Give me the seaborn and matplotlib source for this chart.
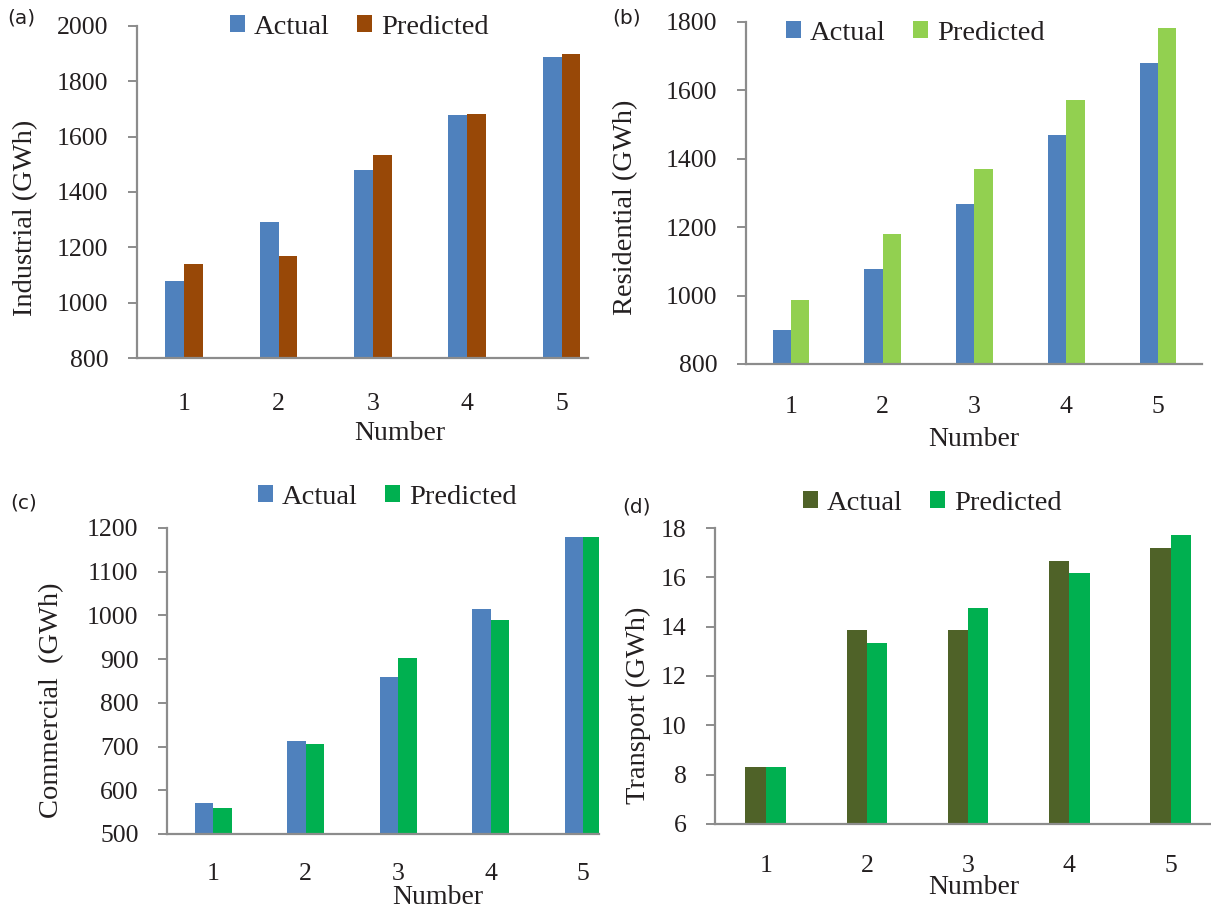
import matplotlib
matplotlib.use("Agg")
import matplotlib.pyplot as plt
import seaborn as sns
import pandas as pd

sns.set_style("white")
plt.rcParams['font.family'] = ['Liberation Serif', 'DejaVu Serif']

numbers = ["1", "2", "3", "4", "5"]
series_names = ["Actual", "Predicted"]

industrial_actual = [1079, 1291, 1479, 1679, 1887]
industrial_pred = [1139, 1170, 1534, 1683, 1900]
residential_actual = [898, 1077, 1269, 1470, 1681]
residential_pred = [987, 1181, 1371, 1572, 1783]
commercial_actual = [571, 712, 860, 1015, 1179]
commercial_pred = [559, 707, 903, 990, 1179]
transport_actual = [8.32, 13.86, 13.86, 16.67, 17.2]
transport_pred = [8.30, 13.35, 14.75, 16.17, 17.72]

y_ticks_a = [800, 1000, 1200, 1400, 1600, 1800, 2000]
y_ticks_b = [800, 1000, 1200, 1400, 1600, 1800]
y_ticks_c = [500, 600, 700, 800, 900, 1000, 1100, 1200]
y_ticks_d = [6, 8, 10, 12, 14, 16, 18]

W, H = 1211, 914
fig = plt.figure(figsize=(W / 100, H / 100), dpi=100)

panels = [
    dict(tag="(a)", actual=industrial_actual, pred=industrial_pred,
         colors=["#4F81BD", "#984807"], ylabel="Industrial (GWh)", yticks=y_ticks_a,
         box=(137, 588, 26, 358), xlim=(-0.5, 4.28), xpad=25,
         ylab=(26, 218), xlab=(400, 433), leg=(359, 27), tagpos=(7, 18)),
    dict(tag="(b)", actual=residential_actual, pred=residential_pred,
         colors=["#4F81BD", "#92D050"], ylabel="Residential (GWh)", yticks=y_ticks_b,
         box=(746, 1202, 22, 364), xlim=(-0.49, 4.48), xpad=23,
         ylab=(626, 207), xlab=(974, 440), leg=(915, 33), tagpos=(612, 18)),
    dict(tag="(c)", actual=commercial_actual, pred=commercial_pred,
         colors=["#4F81BD", "#00B050"], ylabel="Commercial  (GWh)", yticks=y_ticks_c,
         box=(167, 599, 528, 834), xlim=(-0.5, 4.17), xpad=21,
         ylab=(52, 700), xlab=(438, 897), leg=(387, 497), tagpos=(10, 503)),
    dict(tag="(d)", actual=transport_actual, pred=transport_pred,
         colors=["#4F6228", "#00B050"], ylabel="Transport (GWh)", yticks=y_ticks_d,
         box=(715, 1211, 528, 824), xlim=(-0.5, 4.4), xpad=22,
         ylab=(638, 705), xlab=(974, 888), leg=(932, 503), tagpos=(622, 507)),
]

for p in panels:
    l, r, t, b = p["box"]
    ax = fig.add_axes([l / W, 1 - b / H, (r - l) / W, (b - t) / H])
    df = pd.DataFrame({
        "Number": numbers * 2,
        "value": list(p["actual"]) + list(p["pred"]),
        "Series": [series_names[0]] * 5 + [series_names[1]] * 5,
    })
    sns.barplot(data=df, x="Number", y="value", hue="Series", order=numbers,
                hue_order=series_names, palette=p["colors"], saturation=1,
                width=0.4, gap=0, ax=ax, errorbar=None, linewidth=0)
    ax.set_xlim(*p["xlim"])
    ax.set_ylim(p["yticks"][0], p["yticks"][-1])
    ax.set_yticks(p["yticks"])
    ax.set_yticklabels([str(v) for v in p["yticks"]])
    for s in ["top", "right"]:
        ax.spines[s].set_visible(False)
    for s in ["left", "bottom"]:
        ax.spines[s].set_color("#8C8C8C")
        ax.spines[s].set_linewidth(1.6)
    ax.tick_params(axis="y", which="both", left=True, length=6.5, width=1.4,
                   color="#8C8C8C", pad=14, labelsize=18.5, labelcolor="#231F20")
    ax.tick_params(axis="x", which="both", bottom=False, length=0, pad=p["xpad"],
                   labelsize=18.5, labelcolor="#231F20")
    ax.set_xlabel("Number", fontsize=20, color="#231F20")
    ax.set_ylabel(p["ylabel"], fontsize=20.5, color="#231F20")
    xl, yl = p["xlab"]
    ax.xaxis.set_label_coords((xl - l) / (r - l), (b - yl) / (b - t))
    ax.xaxis.label.set_va("center")
    xl, yl = p["ylab"]
    ax.yaxis.set_label_coords((xl - l) / (r - l), (b - yl) / (b - t))
    ax.yaxis.label.set_va("center")
    handles, labels = ax.get_legend_handles_labels()
    ax.get_legend().remove()
    lx, ly = p["leg"]
    ax.legend(handles, labels, loc="center", bbox_to_anchor=(lx / W, 1 - ly / H),
              bbox_transform=fig.transFigure, ncol=2, frameon=False,
              fontsize=20.5, handlelength=0.55, handleheight=0.55,
              handletextpad=0.3, columnspacing=0.95, borderaxespad=0,
              labelcolor="#231F20")
    tx, ty = p["tagpos"]
    fig.text(tx / W, 1 - ty / H, p["tag"], fontsize=14.5, family=["DejaVu Sans"],
             ha="left", va="center", color="#231F20")

fig.savefig("out.png", dpi=100)
